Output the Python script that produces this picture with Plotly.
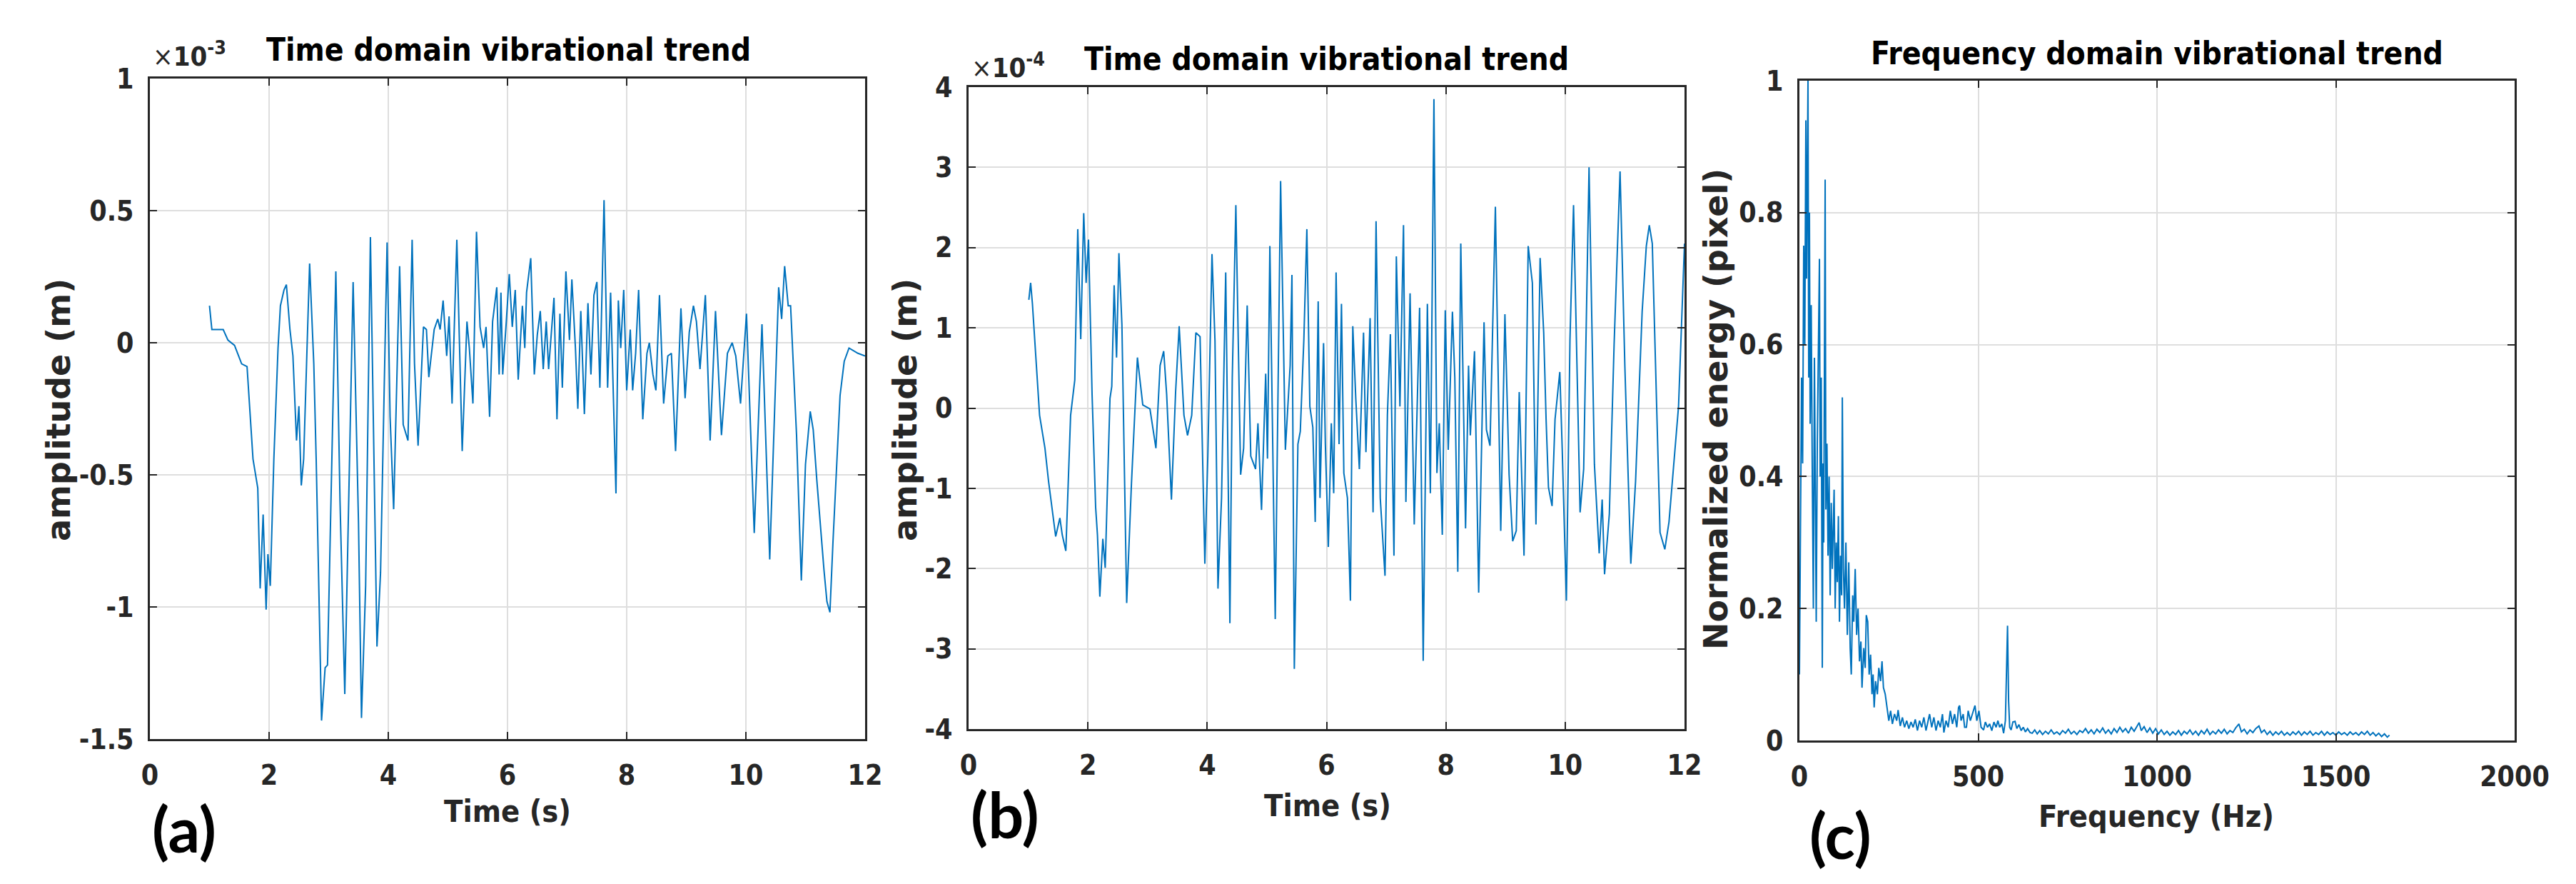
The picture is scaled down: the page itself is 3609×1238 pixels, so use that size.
import plotly.graph_objects as go

W, H = 3609, 1238

# ---------------- data ----------------
# (a) time-domain trend, amplitude in units of 1e-3 m
time_a = [1.00, 1.04, 1.15, 1.23, 1.31, 1.42, 1.54, 1.63, 1.73, 1.81, 1.85, 1.90, 1.95, 1.98, 2.02,
          2.08, 2.15, 2.19, 2.25, 2.29, 2.35, 2.40, 2.46, 2.50, 2.54, 2.58, 2.68, 2.75, 2.79, 2.88,
          2.94, 2.98, 3.12, 3.19, 3.27, 3.41, 3.50, 3.55, 3.62, 3.70, 3.81, 3.87, 3.98, 4.03, 4.09,
          4.19, 4.25, 4.33, 4.40, 4.44, 4.50, 4.59, 4.64, 4.68, 4.77, 4.83, 4.87, 4.92, 4.98, 5.02,
          5.07, 5.15, 5.24, 5.32, 5.36, 5.42, 5.48, 5.54, 5.60, 5.64, 5.70, 5.75, 5.82, 5.86, 5.89,
          5.92, 5.98, 6.03, 6.08, 6.13, 6.18, 6.25, 6.29, 6.32, 6.39, 6.45, 6.50, 6.55, 6.60, 6.65,
          6.69, 6.75, 6.78, 6.83, 6.88, 6.92, 6.98, 7.04, 7.08, 7.14, 7.18, 7.23, 7.29, 7.35, 7.40,
          7.45, 7.50, 7.55, 7.62, 7.68, 7.73, 7.82, 7.86, 7.90, 7.95, 8.00, 8.06, 8.10, 8.15, 8.20,
          8.27, 8.34, 8.38, 8.44, 8.49, 8.55, 8.62, 8.69, 8.75, 8.82, 8.91, 8.98, 9.05, 9.12, 9.17,
          9.23, 9.32, 9.40, 9.49, 9.59, 9.69, 9.77, 9.83, 9.91, 10.01, 10.14, 10.27, 10.40, 10.55,
          10.60, 10.65, 10.71, 10.75, 10.85, 10.93, 11.00, 11.08, 11.13, 11.19, 11.31, 11.36, 11.41,
          11.46, 11.58, 11.65, 11.73, 11.81, 11.88, 12.00]
amp_a = [0.14, 0.05, 0.05, 0.05, 0.01, -0.01, -0.08, -0.09, -0.44, -0.55, -0.93, -0.65, -1.01, -0.80, -0.92,
         -0.44, -0.02, 0.14, 0.20, 0.22, 0.05, -0.05, -0.37, -0.24, -0.54, -0.44, 0.30, -0.08, -0.44, -1.43,
         -1.23, -1.22, 0.27, -0.60, -1.33, 0.23, -0.68, -1.42, -0.92, 0.40, -1.15, -0.87, 0.38, -0.28, -0.63,
         0.29, -0.31, -0.37, 0.39, -0.08, -0.39, 0.06, 0.05, -0.13, 0.05, 0.09, 0.05, 0.16, -0.05, 0.10,
         -0.23, 0.39, -0.41, 0.08, -0.02, -0.23, 0.42, 0.06, -0.02, 0.06, -0.28, 0.08, 0.21, -0.12, 0.19,
         -0.12, 0.08, 0.26, 0.06, 0.20, -0.14, 0.14, -0.02, 0.19, 0.32, -0.12, 0.03, 0.12, -0.10, 0.08,
         -0.10, 0.08, 0.17, -0.29, 0.11, -0.17, 0.27, 0.01, 0.24, -0.02, -0.25, 0.12, -0.27, 0.15, -0.12,
         0.18, 0.23, -0.17, 0.54, -0.17, 0.19, -0.57, 0.16, -0.02, 0.20, -0.18, 0.05, -0.18, -0.04, 0.20,
         -0.29, -0.04, 0.00, -0.12, -0.18, 0.18, -0.23, -0.05, -0.04, -0.41, 0.13, -0.21, 0.04, 0.14, 0.08,
         -0.10, 0.18, -0.37, 0.12, -0.35, -0.04, 0.00, -0.05, -0.23, 0.11, -0.72, 0.07, -0.82, 0.21,
         0.09, 0.29, 0.14, 0.14, -0.35, -0.90, -0.46, -0.26, -0.33, -0.52, -0.86, -0.98, -1.02,
         -0.76, -0.20, -0.07, -0.02, -0.03, -0.04, -0.05]

# (b) time-domain trend, amplitude in units of 1e-4 m
time_b = [1.01, 1.04, 1.07, 1.19, 1.28, 1.34, 1.46, 1.53, 1.57, 1.63, 1.71, 1.78, 1.83, 1.88, 1.93,
          1.97, 2.01, 2.07, 2.13, 2.16, 2.20, 2.25, 2.29, 2.37, 2.40, 2.44, 2.48, 2.52, 2.57, 2.65,
          2.73, 2.83, 2.92, 3.04, 3.14, 3.21, 3.27, 3.32, 3.40, 3.47, 3.53, 3.61, 3.67, 3.74, 3.81,
          3.88, 3.96, 4.01, 4.08, 4.13, 4.18, 4.24, 4.31, 4.38, 4.42, 4.48, 4.56, 4.61, 4.67, 4.73,
          4.81, 4.85, 4.91, 4.98, 5.01, 5.05, 5.14, 5.23, 5.31, 5.39, 5.42, 5.46, 5.52, 5.56, 5.62,
          5.67, 5.72, 5.77, 5.81, 5.86, 5.89, 5.95, 5.98, 6.03, 6.08, 6.12, 6.16, 6.21, 6.25, 6.29,
          6.35, 6.40, 6.44, 6.49, 6.55, 6.62, 6.66, 6.73, 6.78, 6.83, 6.90, 6.98, 7.02, 7.07, 7.13,
          7.17, 7.23, 7.29, 7.33, 7.40, 7.47, 7.56, 7.62, 7.69, 7.74, 7.80, 7.85, 7.89, 7.94, 7.99,
          8.04, 8.11, 8.15, 8.20, 8.25, 8.33, 8.38, 8.41, 8.48, 8.55, 8.64, 8.68, 8.74, 8.83, 8.92,
          8.99, 9.06, 9.12, 9.18, 9.23, 9.31, 9.38, 9.45, 9.51, 9.58, 9.64, 9.68, 9.72, 9.78, 9.83,
          9.91, 9.95, 10.02, 10.08, 10.14, 10.25, 10.31, 10.40, 10.49, 10.57, 10.62, 10.66, 10.74,
          10.82, 10.92, 11.00, 11.10, 11.18, 11.29, 11.36, 11.41, 11.46, 11.59, 11.67, 11.74, 11.90,
          12.00]
amp_b = [1.35, 1.56, 1.30, -0.09, -0.50, -0.91, -1.60, -1.37, -1.58, -1.78, -0.09, 0.35, 2.23, 0.86, 2.43,
         1.56, 2.10, 0.17, -1.24, -1.58, -2.35, -1.63, -1.99, 0.12, 0.27, 1.53, 0.63, 1.93, 1.04, -2.43,
         -0.94, 0.63, 0.04, -0.01, -0.50, 0.53, 0.71, 0.17, -1.14, 0.20, 1.02, -0.09, -0.34, -0.09, 0.94,
         0.89, -1.94, -0.60, 1.92, 0.84, -2.25, -1.12, 1.69, -2.68, 0.38, 2.53, -0.83, -0.50, 1.28, -0.60,
         -0.76, -0.19, -1.27, 0.43, -0.63, 2.02, -2.63, 2.83, -0.52, 0.53, 1.66, -3.25, -0.45, -0.29, 0.86,
         2.23, 0.02, -0.24, -1.42, 1.33, -1.12, 0.81, -0.45, -1.73, -0.19, -1.06, 1.69, -0.45, 1.30, -0.81,
         -1.12, -2.40, 1.02, 0.12, -0.76, 0.94, -0.55, 1.12, -1.30, 2.33, -1.12, -2.09, -0.09, 0.92, -1.84,
         1.89, 0.02, 2.28, -1.17, 1.43, -1.45, 1.25, -3.15, 1.30, -1.06, 3.85, -0.81, -0.19, -1.58, 1.22,
         -0.52, 1.20, 0.38, -2.04, 2.05, -1.50, 0.53, -0.34, 0.71, -2.30, 1.07, -0.27, -0.47, 2.51, -1.53,
         1.17, -0.83, -1.66, -1.53, 0.20, -1.84, 2.02, 1.56, -1.45, 1.87, 0.94, -0.14, -0.99, -1.22, -0.14,
         0.45, -0.50, -2.40, 0.84, 2.53, -1.30, -0.76, 3.00, -0.70, -1.81, -1.14, -2.07, -1.32,
         0.79, 2.95, 0.53, -1.94, -0.91, 1.20, 2.02, 2.28, 2.05, -1.55, -1.76, -1.42, 0.02,
         2.05]

# (c) frequency-domain trend (normalized energy)
freq_c = [0, 3, 6, 9, 12, 15, 18, 20, 22, 24, 26, 28, 30, 33, 36, 39, 42, 45, 47, 50,
          53, 56, 58, 61, 64, 66, 68, 70, 72, 74, 77, 80, 83, 86, 89, 92, 95, 97, 100, 103,
          106, 109, 112, 115, 118, 120, 123, 126, 130, 134, 138, 142, 145, 149, 152, 156, 160, 164, 168, 172,
          175, 180, 184, 187, 191, 195, 199, 203, 206, 209, 213, 218, 222, 227, 231, 235, 240, 245, 250, 255,
          260, 266, 272, 276, 282, 288, 294, 300, 306, 312, 318, 324, 330, 336, 342, 348, 354, 360, 364, 370,
          376, 382, 388, 394, 400, 404, 410, 416, 422, 428, 434, 440, 445, 448, 452, 458, 462, 467, 472, 478,
          484, 491, 496, 502, 508, 515, 520, 526, 532, 538, 544, 550, 555, 560, 566, 571, 576, 579, 582, 585,
          588, 592, 597, 603, 608, 614, 620, 626, 632, 638, 645, 651, 658, 665, 672, 680, 688, 696, 704, 712,
          720, 728, 736, 744, 752, 760, 768, 776, 784, 792, 800, 808, 816, 824, 832, 840, 848, 856, 864, 872,
          880, 888, 896, 904, 912, 920, 928, 936, 944, 950, 956, 964, 972, 980, 988, 996, 1004, 1012, 1020, 1028,
          1036, 1044, 1052, 1060, 1068, 1076, 1084, 1092, 1100, 1108, 1116, 1124, 1132, 1140, 1148, 1156, 1164, 1172, 1180, 1188,
          1196, 1204, 1212, 1220, 1229, 1236, 1244, 1252, 1260, 1268, 1276, 1285, 1292, 1300, 1308, 1316, 1324, 1332, 1340, 1348,
          1356, 1364, 1372, 1380, 1388, 1396, 1404, 1412, 1420, 1428, 1436, 1444, 1452, 1460, 1468, 1476, 1484, 1492, 1500, 1508,
          1516, 1524, 1532, 1540, 1548, 1556, 1564, 1572, 1580, 1588, 1596, 1604, 1612, 1620, 1628, 1636, 1644, 1650]
energy_c = [0.10, 0.35, 0.55, 0.42, 0.75, 0.60, 0.94, 0.70, 0.88, 1.00, 0.55, 0.80, 0.48, 0.66, 0.40, 0.20, 0.58, 0.33, 0.18, 0.45,
            0.62, 0.73, 0.40, 0.55, 0.11, 0.42, 0.30, 0.60, 0.85, 0.35, 0.45, 0.28, 0.40, 0.22, 0.36, 0.26, 0.33, 0.38, 0.20, 0.30,
            0.24, 0.34, 0.18, 0.28, 0.22, 0.52, 0.26, 0.20, 0.30, 0.16, 0.27, 0.14, 0.10, 0.22, 0.18, 0.26, 0.16, 0.20, 0.12, 0.15,
            0.08, 0.14, 0.11, 0.19, 0.18, 0.10, 0.13, 0.07, 0.10, 0.05, 0.09, 0.07, 0.11, 0.09, 0.12, 0.08, 0.07, 0.05, 0.03, 0.045,
            0.025, 0.04, 0.03, 0.046, 0.022, 0.035, 0.02, 0.03, 0.018, 0.028, 0.02, 0.032, 0.015, 0.03, 0.02, 0.035, 0.015, 0.03, 0.04, 0.02,
            0.035, 0.015, 0.03, 0.02, 0.04, 0.012, 0.03, 0.02, 0.045, 0.025, 0.04, 0.02, 0.05, 0.053, 0.03, 0.04, 0.02, 0.02, 0.045, 0.03,
            0.04, 0.053, 0.03, 0.045, 0.02, 0.016, 0.028, 0.02, 0.025, 0.015, 0.028, 0.02, 0.03, 0.02, 0.025, 0.011, 0.03, 0.10, 0.174, 0.06,
            0.02, 0.016, 0.028, 0.029, 0.018, 0.024, 0.015, 0.02, 0.013, 0.018, 0.012, 0.011, 0.016, 0.01, 0.015, 0.009, 0.014, 0.01, 0.016, 0.01,
            0.013, 0.009, 0.015, 0.011, 0.017, 0.01, 0.014, 0.009, 0.015, 0.012, 0.018, 0.011, 0.016, 0.01, 0.017, 0.012, 0.019, 0.011, 0.016, 0.01,
            0.018, 0.012, 0.02, 0.013, 0.018, 0.011, 0.02, 0.014, 0.022, 0.027, 0.015, 0.021, 0.012, 0.019, 0.011, 0.018, 0.01, 0.016, 0.009, 0.014,
            0.008, 0.013, 0.009, 0.015, 0.008, 0.014, 0.01, 0.016, 0.009, 0.014, 0.008, 0.015, 0.01, 0.017, 0.009, 0.014, 0.01, 0.016, 0.011, 0.017,
            0.01, 0.015, 0.012, 0.019, 0.025, 0.013, 0.017, 0.01, 0.016, 0.012, 0.018, 0.022, 0.012, 0.016, 0.009, 0.014, 0.008, 0.013, 0.009, 0.014,
            0.008, 0.012, 0.008, 0.013, 0.009, 0.014, 0.008, 0.013, 0.009, 0.014, 0.008, 0.012, 0.009, 0.014, 0.008, 0.013, 0.009, 0.012, 0.008, 0.013,
            0.009, 0.012, 0.008, 0.013, 0.009, 0.012, 0.008, 0.013, 0.009, 0.014, 0.008, 0.012, 0.007, 0.011, 0.006, 0.01, 0.005, 0.008]

# ticks
time_ticks = [0, 2, 4, 6, 8, 10, 12]
time_tick_labels = ["0", "2", "4", "6", "8", "10", "12"]
amp_a_ticks = [-1.5, -1, -0.5, 0, 0.5, 1]
amp_a_tick_labels = ["-1.5", "-1", "-0.5", "0", "0.5", "1"]
amp_b_ticks = [-4, -3, -2, -1, 0, 1, 2, 3, 4]
amp_b_tick_labels = ["-4", "-3", "-2", "-1", "0", "1", "2", "3", "4"]
freq_ticks = [0, 500, 1000, 1500, 2000]
freq_tick_labels = ["0", "500", "1000", "1500", "2000"]
energy_ticks = [0, 0.2, 0.4, 0.6, 0.8, 1]
energy_tick_labels = ["0", "0.2", "0.4", "0.6", "0.8", "1"]

# ---------------- styling ----------------
LINE_COLOR = "#0072BD"
AX_COLOR = "#262626"
GRID = "#dedede"
COND = "DejaVu Sans Condensed, DejaVu Sans"
BOLD = "DejaVu Sans"
PANEL = "Lato"


def px(x):
    return x / W


def py(y):
    return 1 - y / H


boxes = {
    "a": (202, 1204, 102, 1027),
    "b": (1349, 2352, 114, 1013),
    "c": (2513, 3515, 105, 1029),
}


def xax(box, ticks, labels, rng, anchor):
    l, r, t, b = box
    return dict(domain=[px(l), px(r)], range=rng, anchor=anchor,
                tickmode="array", tickvals=ticks, ticktext=labels,
                showline=True, linecolor=AX_COLOR, linewidth=2.5, mirror="ticks",
                ticks="inside", ticklen=10, tickwidth=2, tickcolor=AX_COLOR,
                showgrid=True, gridcolor=GRID, gridwidth=1.6, zeroline=False,
                tickfont=dict(family=COND, size=39, color=AX_COLOR, weight="bold"),
                ticklabelstandoff=14, automargin=False, fixedrange=True)


def yax(box, ticks, labels, rng, anchor):
    l, r, t, b = box
    return dict(domain=[py(b), py(t)], range=rng, anchor=anchor,
                tickmode="array", tickvals=ticks, ticktext=labels,
                showline=True, linecolor=AX_COLOR, linewidth=2.5, mirror="ticks",
                ticks="inside", ticklen=10, tickwidth=2, tickcolor=AX_COLOR,
                showgrid=True, gridcolor=GRID, gridwidth=2, zeroline=False,
                tickfont=dict(family=COND, size=39, color=AX_COLOR, weight="bold"),
                ticklabelstandoff=12, automargin=False, fixedrange=True)


fig = go.Figure()
fig.add_trace(go.Scatter(x=time_a, y=amp_a, mode="lines", xaxis="x", yaxis="y",
                         line=dict(color=LINE_COLOR, width=2), showlegend=False))
fig.add_trace(go.Scatter(x=time_b, y=amp_b, mode="lines", xaxis="x2", yaxis="y2",
                         line=dict(color=LINE_COLOR, width=2), showlegend=False))
fig.add_trace(go.Scatter(x=freq_c, y=energy_c, mode="lines", xaxis="x3", yaxis="y3",
                         line=dict(color=LINE_COLOR, width=2), showlegend=False))


def ann(text, x, y, size, family=COND, angle=0, xanchor="center", yanchor="middle", color="#000000"):
    return dict(text=text, x=px(x), y=py(y), xref="paper", yref="paper", showarrow=False,
                xanchor=xanchor, yanchor=yanchor, textangle=angle,
                font=dict(family=family, size=size, color=color))


annotations = [
    # titles
    ann("<b>Time domain vibrational trend</b>", 704, 62, 44),
    ann("<b>Time domain vibrational trend</b>", 1850, 74, 44),
    ann("<b>Frequency domain vibrational trend</b>", 3014, 66, 44),
    # x labels
    ann("<b>Time (s)</b>", 703, 1128, 43, color=AX_COLOR),
    ann("<b>Time (s)</b>", 1852, 1120, 43, color=AX_COLOR),
    ann("<b>Frequency (Hz)</b>", 3013, 1135, 43, color=AX_COLOR),
    # y labels
    ann("<b>amplitude (m)</b>", 74, 566, 46, family=BOLD, angle=-90, color=AX_COLOR),
    ann("<b>amplitude (m)</b>", 1260, 566, 46, family=BOLD, angle=-90, color=AX_COLOR),
    ann("<b>Normalized energy (pixel)</b>", 2396, 565, 46, family=BOLD, angle=-90, color=AX_COLOR),
    # exponents
    ann("×<b>10<sup>-3</sup></b>", 204, 68, 38, xanchor="left", color=AX_COLOR),
    ann("×<b>10<sup>-4</sup></b>", 1351, 84, 38, xanchor="left", color=AX_COLOR),
    # panel letters
    ann("<b>(a)</b>", 250, 1152, 88, family=PANEL),
    ann("<b>(b)</b>", 1400, 1132, 88, family=PANEL),
    ann("<b>(c)</b>", 2570, 1161, 88, family=PANEL),
]

fig.update_layout(
    width=W, height=H, margin=dict(l=0, r=0, t=0, b=0, pad=0),
    paper_bgcolor="white", plot_bgcolor="white", template="none",
    showlegend=False,
    xaxis=xax(boxes["a"], time_ticks, time_tick_labels, [0, 12], "y"),
    yaxis=yax(boxes["a"], amp_a_ticks, amp_a_tick_labels, [-1.5, 1], "x"),
    xaxis2=xax(boxes["b"], time_ticks, time_tick_labels, [0, 12], "y2"),
    yaxis2=yax(boxes["b"], amp_b_ticks, amp_b_tick_labels, [-4, 4], "x2"),
    xaxis3=xax(boxes["c"], freq_ticks, freq_tick_labels, [0, 2000], "y3"),
    yaxis3=yax(boxes["c"], energy_ticks, energy_tick_labels, [0, 1], "x3"),
    annotations=annotations,
)

fig.write_html("out.html")
